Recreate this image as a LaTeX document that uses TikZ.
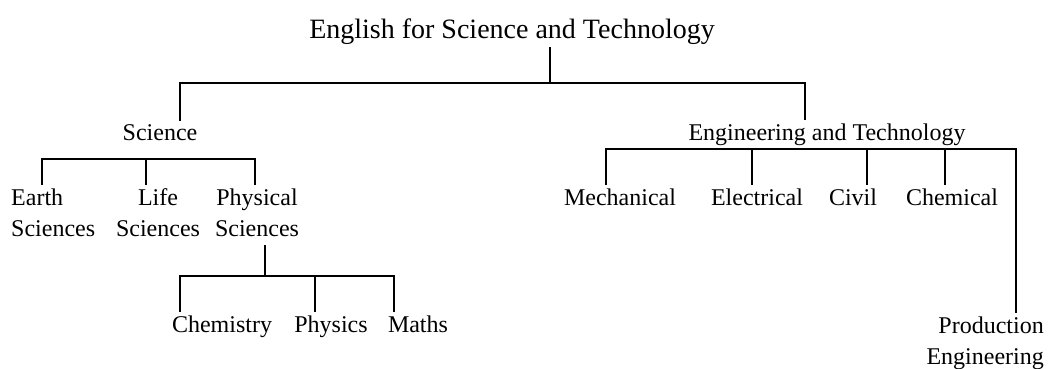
\documentclass[tikz,border=0pt]{standalone}
\usepackage{fontspec}
\setmainfont{Liberation Serif}
\usetikzlibrary{positioning}
\begin{document}
\begin{tikzpicture}[
  x=1pt,y=-1pt,
  lbl/.style={font=\fontsize{24}{31}\selectfont,inner xsep=0pt,inner ysep=3pt,align=center},
  ttl/.style={lbl,font=\fontsize{28}{34}\selectfont},
  ln/.style={line width=1.3pt}
]
\useasboundingbox (0,0) rectangle (1057,369);
% labels (base of two-line nodes = last line)
\node[ttl,anchor=base] (root) at (512,38) {English for Science and Technology};
\node[lbl,anchor=base] (sci) at (160,140) {Science};
\node[lbl,anchor=base] (eng) at (827,140) {Engineering and Technology};
\node[lbl,anchor=base west,align=left] (earth) at (11,236) {Earth\\Sciences};
\node[lbl,anchor=base] (life) at (158,236) {Life\\Sciences};
\node[lbl,anchor=base] (phys) at (257,236) {Physical\\Sciences};
\node[lbl,anchor=base] (chem) at (222,332) {Chemistry};
\node[lbl,anchor=base] (physics) at (331,332) {Physics};
\node[lbl,anchor=base] (maths) at (418,332) {Maths};
\node[lbl,anchor=base] (mech) at (620,205) {Mechanical};
\node[lbl,anchor=base] (elec) at (757,205) {Electrical};
\node[lbl,anchor=base] (civil) at (853,205) {Civil};
\node[lbl,anchor=base] (chemeng) at (952,205) {Chemical};
\node[lbl,anchor=base east,align=right] (prod) at (1044,364) {Production\\Engineering};
% junctions
\coordinate (j0) at (550,83);
\coordinate (j0l) at (180,83);
\coordinate (j0r) at (805,83);
\coordinate (j1l) at (42,159);
\coordinate (j1m) at (146,159);
\coordinate (j1r) at (255,159);
\coordinate (j2) at (265,276);
\coordinate (j2l) at (180,276);
\coordinate (j2m) at (315,276);
\coordinate (j2r) at (394,276);
\coordinate (j3l) at (606,149);
\coordinate (j3a) at (752,149);
\coordinate (j3b) at (867,149);
\coordinate (j3c) at (945,149);
\coordinate (j3r) at (1016,149);
% tree lines
\draw[ln] (root.south -| j0) -- (j0);
\draw[ln] (j0l |- sci.north) -- (j0l) -- (j0r) -- (j0r |- eng.north);
\draw[ln] (earth.north -| j1l) -- (j1l) -- (j1r) -- (phys.north -| j1r);
\draw[ln] (j1m) -- (life.north -| j1m);
\draw[ln,shorten <=6pt] (phys.south -| j2) -- (j2);
\draw[ln] (chem.north -| j2l) -- (j2l) -- (j2r) -- (maths.north -| j2r);
\draw[ln] (j2m) -- (physics.north -| j2m);
\draw[ln] (mech.north -| j3l) -- (j3l) -- (j3r) -- (prod.north -| j3r);
\foreach \c/\n in {j3a/elec,j3b/civil,j3c/chemeng}
  \draw[ln] (\c) -- (\n.north -| \c);
\end{tikzpicture}
\end{document}
